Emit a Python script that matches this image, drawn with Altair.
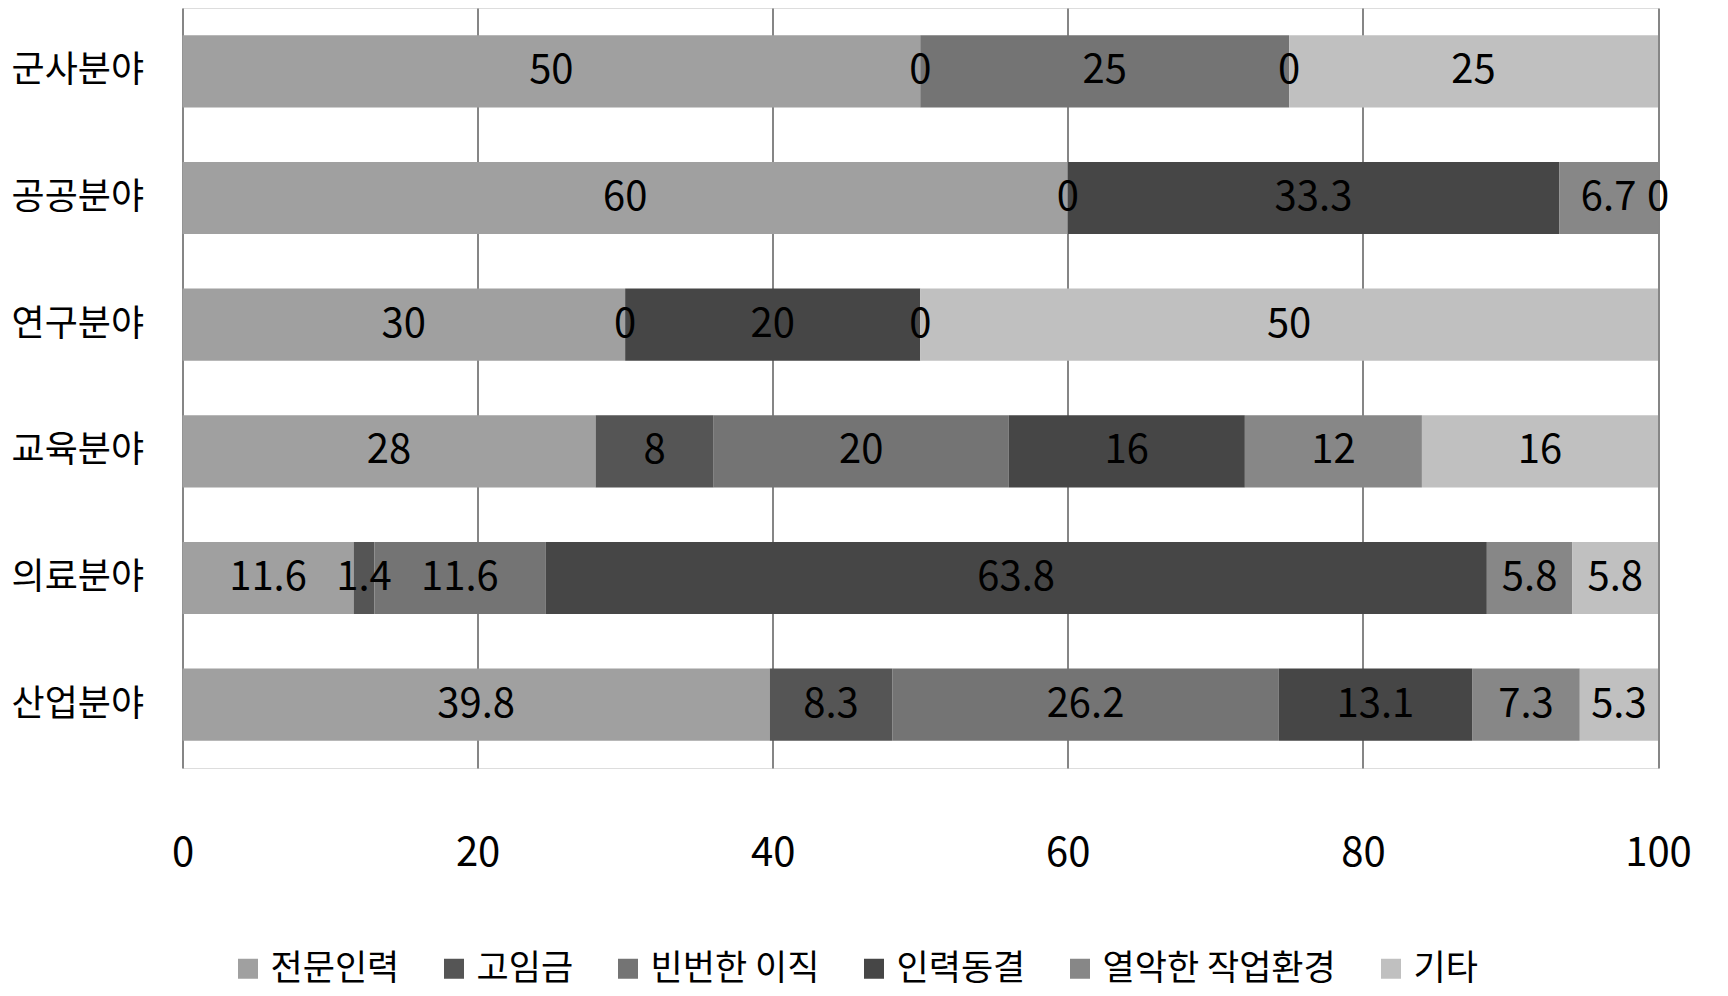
import altair as alt
import pandas as pd

categories = ["군사분야", "공공분야", "연구분야", "교육분야", "의료분야", "산업분야"]
series = ["전문인력", "고임금", "빈번한 이직", "인력동결", "열악한 작업환경", "기타"]
colors = ["#a0a0a0", "#555555", "#747474", "#464646", "#878787", "#c0c0c0"]

v_expert = [50, 60, 30, 28, 11.6, 39.8]
v_wage = [0, 0, 0, 8, 1.4, 8.3]
v_turnover = [25, None, None, 20, 11.6, 26.2]
v_freeze = [0, 33.3, 20, 16, 63.8, 13.1]
v_poorenv = [None, 6.7, 0, 12, 5.8, 7.3]
v_other = [25, 0, 50, 16, 5.8, 5.3]

all_vals = [v_expert, v_wage, v_turnover, v_freeze, v_poorenv, v_other]

rows = []
for si, (s, vals) in enumerate(zip(series, all_vals)):
    for ci, (c, v) in enumerate(zip(categories, vals)):
        if v is None:
            continue
        rows.append({"cat": c, "series": s, "order": si, "value": v, "label": f"{v:g}"})
df = pd.DataFrame(rows)

FONT = "Noto Sans CJK KR"

base = alt.Chart(df).transform_stack(
    stack="value", groupby=["cat"], as_=["x0", "x1"],
    sort=[alt.SortField("order", order="ascending")]
).transform_calculate(mid="(datum.x0 + datum.x1) / 2")

yenc = alt.Y("cat:N", sort=categories, title=None,
             scale=alt.Scale(paddingInner=0.43, paddingOuter=0.215),
             axis=alt.Axis(domain=False, ticks=False, labelFontSize=36, labelFont=FONT,
                           labelColor="#000000", labelPadding=39, labelAlign="right"))

bars = base.mark_bar(stroke=None).encode(
    x=alt.X("x0:Q", title=None, scale=alt.Scale(domain=[0, 100], nice=False),
            axis=alt.Axis(values=[0, 20, 40, 60, 80, 100], domain=False, ticks=False,
                          grid=True, gridColor="#868686", gridWidth=2,
                          labelFontSize=40, labelFont=FONT, labelColor="#000000",
                          labelPadding=65, labelFlush=False)),
    x2="x1:Q",
    y=yenc,
    color=alt.Color("series:N", sort=series,
                    scale=alt.Scale(domain=series, range=colors),
                    legend=alt.Legend(title=None, orient="none", direction="horizontal",
                                      legendX=48, legendY=943,
                                      symbolType="square", symbolSize=400,
                                      symbolStrokeWidth=0, labelFontSize=35,
                                      labelFont=FONT, labelColor="#000000",
                                      labelOffset=5, columnPadding=37,
                                      labelLimit=500)),
    order=alt.Order("order:Q"),
)

texts = base.mark_text(fontSize=40, font=FONT, color="#000000", align="center",
                       baseline="middle").encode(
    x=alt.X("mid:Q"),
    y=alt.Y("cat:N", sort=categories),
    text="label:N",
)

chart = alt.layer(bars, texts).properties(
    width=1475.5, height=760,
    autosize=alt.AutoSizeParams(type="none"),
    padding={"left": 174.5, "top": 0, "right": 62, "bottom": 216},
).configure_view(stroke=None).configure(background="#ffffff")

chart.save("out.html", embed_options={"renderer": "svg", "actions": False})
